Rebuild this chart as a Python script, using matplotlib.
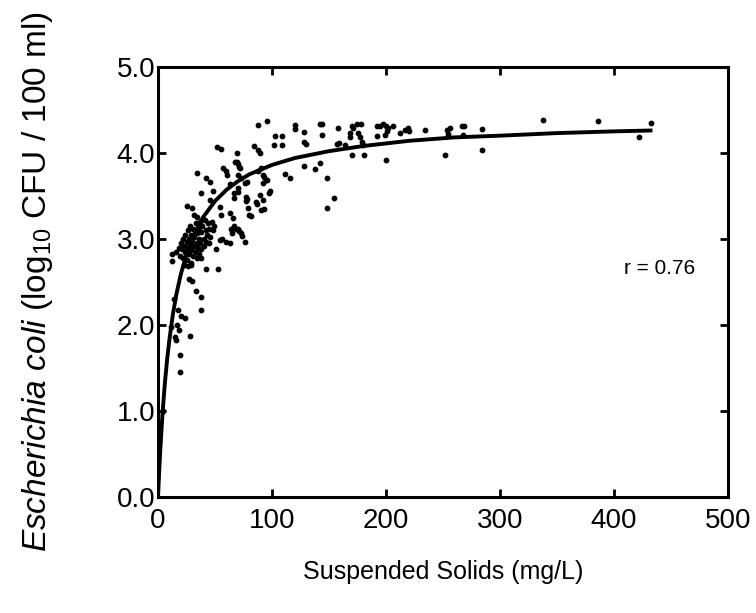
import matplotlib
matplotlib.use("Agg")
import matplotlib.pyplot as plt
from matplotlib.ticker import FormatStrFormatter

plt.rcParams['font.family'] = ['Liberation Sans', 'DejaVu Sans']
plt.rcParams['mathtext.fontset'] = 'custom'
plt.rcParams['mathtext.rm'] = 'Liberation Sans'
plt.rcParams['mathtext.it'] = 'Liberation Sans:italic'

# suspended solids (mg/L) and E. coli (log10 CFU / 100 ml)
ss = [96, 87.5, 120, 120, 143.6, 144, 158, 128, 103, 108.5, 102, 108.5, 128, 130,
      84, 88, 89.5, 51.5, 55, 69.6, 56.7, 59.6, 60.8, 69.6, 71.3, 34.5, 42, 46,
      63, 70, 72.5, 76, 90.6, 92.4, 96, 111, 115.5, 128, 138, 142, 148, 154.7,
      148, 38, 45.6, 48, 66.7, 70.5, 77, 78.5, 77.5, 89.5, 92, 86, 97, 93, 78.7,
      81.3, 63, 66, 66.7, 68.4, 55, 54, 25, 29.5, 31.6, 34, 71.3, 73.4, 76.3, 56,
      59.6, 63, 51, 64, 65, 70, 72.5, 80, 90.6, 54, 42.4, 53, 12, 12, 14, 27, 30,
      33.6, 37.4, 38, 20.5, 23.4, 17, 18, 14.6, 16, 28.4, 19, 19.6, 11.4, 17.8,
      4.5, 142, 168, 168, 175.7, 177, 178.7, 180, 170, 180.7, 170, 171.3, 174.3,
      178, 192, 195, 197.6, 200, 200.6, 199, 202, 206, 192, 212, 216.7, 219.6,
      200, 156.7, 159, 164, 98, 95, 93, 92.4, 67.3, 70, 71.6, 78, 87.7, 87, 66.7,
      70, 220.5, 234, 253.8, 256, 254.6, 251.8, 266.4, 268.4, 267.3, 284, 284,
      338, 386, 432.5, 422,
      16, 18, 19, 20, 21, 22, 22, 23, 24, 24, 25, 25, 26, 26, 27, 27, 28, 28, 29,
      29, 30, 30, 31, 31, 32, 32, 33, 33, 34, 34, 35, 35, 36, 36, 37, 37, 38, 38,
      39, 40, 40, 41, 42, 42, 43, 44, 45, 45, 46, 47, 48, 49, 26, 29, 23, 34, 38]
ecoli = [4.37, 4.32, 4.32, 4.28, 4.34, 4.21, 4.29, 4.24, 4.2, 4.2, 4.09, 4.09, 4.13, 4.1,
         4.08, 4.03, 4.0, 4.07, 4.05, 4.0, 3.82, 3.79, 3.74, 3.89, 3.84, 3.77, 3.71, 3.66,
         3.64, 3.74, 3.71, 3.65, 3.83, 3.74, 3.69, 3.75, 3.71, 3.85, 3.81, 3.88, 3.71, 3.48,
         3.36, 3.53, 3.45, 3.56, 3.53, 3.55, 3.49, 3.46, 3.44, 3.51, 3.45, 3.43, 3.53, 3.35, 3.36,
         3.27, 3.3, 3.24, 3.15, 3.12, 3.28, 3.37, 3.38, 3.36, 3.28, 3.26, 3.09, 3.03, 2.97, 3.0,
         2.97, 2.95, 2.88, 3.12, 3.07, 3.12, 3.07, 3.28, 3.34, 2.99, 2.65, 2.65, 2.83, 2.74, 2.3, 2.53, 2.51,
         2.4, 2.32, 2.18, 2.1, 2.08, 2.0, 1.94, 1.86, 1.83, 1.87, 1.65, 1.45, 1.98, 2.17,
         1.0, 4.33, 4.23, 4.18, 4.23, 4.19, 4.13, 4.09, 3.97, 3.97, 4.31, 4.29, 4.33,
         4.34, 4.31, 4.31, 4.33, 4.31, 4.25, 4.21, 4.29, 4.31, 4.2, 4.23, 4.27, 4.29,
         3.92, 4.1, 4.12, 4.09, 3.56, 3.69, 3.72, 3.65, 3.89, 3.87, 3.83, 3.66, 3.79, 3.41, 3.47,
         3.59, 4.25, 4.27, 4.27, 4.29, 4.22, 3.97, 4.31, 4.31, 4.21, 4.28, 4.03,
         4.38, 4.37, 4.35, 4.19,
         2.85, 2.9, 2.8, 2.95, 2.88, 3.0, 2.78, 2.92, 3.05, 2.85, 2.97, 2.75, 3.1, 2.9, 3.0, 2.82, 3.15, 2.93, 3.05,
         2.72, 2.98, 2.87, 3.12, 2.8, 3.02, 2.92, 3.18, 2.85, 3.07, 2.95, 2.9, 3.12, 3.0, 2.82, 3.2, 2.95, 3.08, 2.88,
         3.15, 3.0, 2.92, 3.22, 3.1, 2.97, 3.05, 3.18, 3.12, 2.95, 3.02, 3.2, 3.1, 3.15, 2.68, 2.7, 2.7, 2.78, 2.78]

# fitted curve
fit_x = [0, 1, 2, 4, 6, 8, 10, 13, 16, 20, 25, 30, 35, 40, 50, 60, 70, 80, 100,
         120, 150, 180, 220, 260, 300, 350, 400, 432]
fit_y = [0, 0.29, 0.55, 0.98, 1.32, 1.6, 1.83, 2.12, 2.35, 2.59, 2.82, 3.0, 3.14,
         3.26, 3.44, 3.57, 3.67, 3.75, 3.86, 3.94, 4.02, 4.08, 4.14, 4.18, 4.2,
         4.23, 4.25, 4.26]

fig = plt.figure(figsize=(7.56, 6.13), dpi=100)
ax = fig.add_axes([0.209, 0.189, 0.754, 0.702])

ax.scatter(ss, ecoli, s=10, color='black', zorder=3)
ax.plot(fit_x, fit_y, color='black', linewidth=2.8, zorder=4)

ax.set_xlim(0, 500)
ax.set_ylim(0, 5)
ax.set_xticks([0, 100, 200, 300, 400, 500])
ax.set_yticks([0, 1, 2, 3, 4, 5])
ax.yaxis.set_major_formatter(FormatStrFormatter('%.1f'))

for sp in ax.spines.values():
    sp.set_linewidth(2.2)
ax.tick_params(direction='in', top=True, right=True, length=6, width=2,
               labelsize=20)
ax.tick_params(axis='x', pad=8)
ax.tick_params(axis='y', pad=2)

ax.text(440, 2.66, 'r = 0.76', fontsize=15, ha='center', va='center')

ax.set_xlabel('Suspended Solids (mg/L)', fontsize=18)
ax.xaxis.set_label_coords(0.5, -0.147)
ax.set_ylabel(r'$\mathit{Escherichia\ coli}$ (log$_{10}$ CFU / 100 ml)',
              fontsize=24)
ax.yaxis.set_label_coords(-0.18, 0.5)

fig.savefig('out.png', dpi=100)
